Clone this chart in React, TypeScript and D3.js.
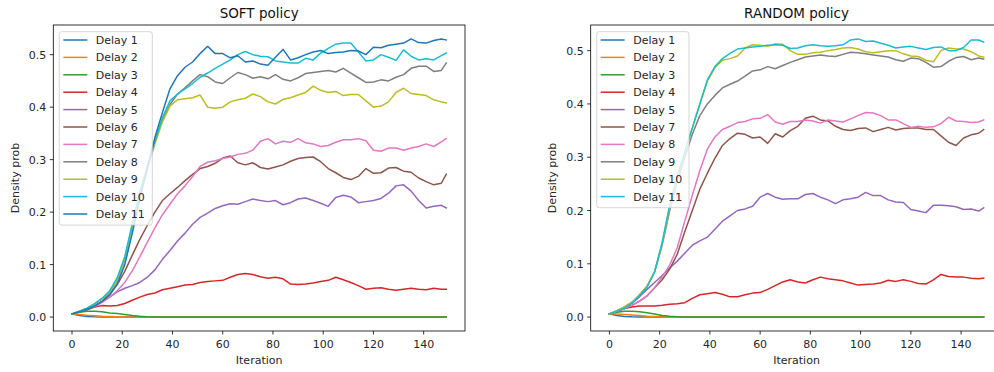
import React from "react";
import * as d3 from "d3";

const iterations = [0,3,6,9,12,15,18,21,24,27,30,33,36,39,42,45,48,51,54,57,60,63,66,69,72,75,78,81,84,87,90,93,96,99,102,105,108,111,114,117,120,123,126,129,132,135,138,141,144,147,149];

const xTicks = [0, 20, 40, 60, 80, 100, 120, 140];
const yTicks = [0, 0.1, 0.2, 0.3, 0.4, 0.5];

const palette = ["#1f77b4","#ff7f0e","#2ca02c","#d62728","#9467bd","#8c564b","#e377c2","#7f7f7f","#bcbd22","#17becf"];

// SOFT policy
const soft1 = [0.006,0.003,0.0012,0.0005,0.0002,0,0,0,0,0, 0,0,0,0,0,0,0,0,0,0, 0,0,0,0,0,0,0,0,0,0, 0,0,0,0,0,0,0,0,0,0, 0,0,0,0,0,0,0,0,0,0, 0];
const soft2 = [0.006,0.005,0.0035,0.0025,0.0015,0.001,0.0005,0.0002,0.0001,0, 0,0,0,0,0,0,0,0,0,0, 0,0,0,0,0,0,0,0,0,0, 0,0,0,0,0,0,0,0,0,0, 0,0,0,0,0,0,0,0,0,0, 0];
const soft3 = [0.006,0.009,0.011,0.011,0.01,0.008,0.007,0.005,0.003,0.0015, 0.0007,0.0003,0.0001,0,0,0,0,0,0,0, 0,0,0,0,0,0,0,0,0,0, 0,0,0,0,0,0,0,0,0,0, 0,0,0,0,0,0,0,0,0,0, 0];
const soft4 = [0.006,0.01,0.014,0.019,0.022,0.021,0.022,0.026,0.032,0.038, 0.043,0.046,0.052,0.055,0.058,0.061,0.062,0.066,0.068,0.069, 0.07,0.076,0.081,0.083,0.081,0.077,0.074,0.076,0.073,0.063, 0.062,0.063,0.065,0.068,0.07,0.076,0.071,0.066,0.06,0.053, 0.055,0.056,0.053,0.051,0.053,0.055,0.053,0.052,0.055,0.053, 0.053];
const soft5 = [0.006,0.01,0.015,0.021,0.03,0.038,0.048,0.055,0.06,0.066, 0.076,0.09,0.11,0.127,0.145,0.16,0.177,0.19,0.198,0.207, 0.212,0.216,0.215,0.22,0.225,0.222,0.22,0.222,0.214,0.218, 0.225,0.227,0.222,0.217,0.211,0.228,0.232,0.229,0.218,0.22, 0.222,0.226,0.236,0.25,0.252,0.24,0.222,0.208,0.211,0.213, 0.208];
const soft6 = [0.006,0.01,0.015,0.021,0.03,0.044,0.062,0.087,0.118,0.148, 0.175,0.2,0.222,0.235,0.247,0.26,0.272,0.283,0.287,0.293, 0.303,0.307,0.294,0.29,0.294,0.285,0.282,0.286,0.29,0.297, 0.302,0.304,0.305,0.296,0.283,0.275,0.266,0.262,0.268,0.283, 0.274,0.275,0.284,0.285,0.278,0.276,0.265,0.258,0.252,0.255, 0.272];
const soft7 = [0.006,0.01,0.015,0.02,0.028,0.038,0.05,0.066,0.088,0.115, 0.143,0.17,0.195,0.215,0.235,0.25,0.268,0.287,0.295,0.298, 0.302,0.305,0.31,0.312,0.318,0.335,0.34,0.33,0.335,0.333, 0.34,0.332,0.33,0.325,0.327,0.333,0.338,0.338,0.34,0.336, 0.318,0.316,0.322,0.322,0.318,0.322,0.325,0.33,0.325,0.334, 0.34];
const soft8 = [0.006,0.011,0.017,0.025,0.035,0.047,0.07,0.11,0.175,0.235, 0.285,0.335,0.375,0.405,0.425,0.437,0.45,0.462,0.458,0.448, 0.445,0.456,0.466,0.462,0.455,0.458,0.454,0.462,0.453,0.45, 0.456,0.464,0.466,0.468,0.47,0.467,0.474,0.465,0.456,0.447, 0.448,0.452,0.45,0.457,0.462,0.474,0.478,0.478,0.468,0.47, 0.484];
const soft9 = [0.006,0.011,0.017,0.025,0.035,0.047,0.07,0.11,0.172,0.232, 0.28,0.33,0.372,0.402,0.414,0.416,0.418,0.423,0.4,0.398, 0.4,0.41,0.414,0.417,0.425,0.42,0.41,0.406,0.415,0.418, 0.423,0.428,0.44,0.432,0.428,0.43,0.422,0.424,0.424,0.412, 0.4,0.402,0.41,0.428,0.436,0.426,0.424,0.422,0.414,0.41, 0.408];
const soft10 = [0.006,0.011,0.017,0.025,0.036,0.05,0.075,0.115,0.178,0.24, 0.285,0.335,0.38,0.412,0.425,0.435,0.445,0.457,0.465,0.474, 0.482,0.49,0.5,0.506,0.5,0.497,0.496,0.488,0.486,0.484, 0.484,0.493,0.49,0.503,0.512,0.52,0.522,0.522,0.505,0.488, 0.49,0.5,0.495,0.489,0.509,0.497,0.49,0.492,0.49,0.498, 0.503];
const soft11 = [0.006,0.01,0.015,0.021,0.03,0.042,0.063,0.1,0.16,0.225, 0.285,0.342,0.39,0.435,0.46,0.476,0.486,0.502,0.516,0.502, 0.502,0.494,0.498,0.486,0.488,0.482,0.48,0.495,0.51,0.49, 0.494,0.5,0.505,0.508,0.502,0.504,0.505,0.508,0.507,0.5, 0.514,0.513,0.518,0.52,0.522,0.53,0.523,0.522,0.527,0.53, 0.528];

// RANDOM policy
const rnd1 = [0.006,0.003,0.0013,0.0005,0.0002,0,0,0,0,0, 0,0,0,0,0,0,0,0,0,0, 0,0,0,0,0,0,0,0,0,0, 0,0,0,0,0,0,0,0,0,0, 0,0,0,0,0,0,0,0,0,0, 0];
const rnd2 = [0.006,0.006,0.005,0.004,0.003,0.0018,0.001,0.0005,0.0002,0, 0,0,0,0,0,0,0,0,0,0, 0,0,0,0,0,0,0,0,0,0, 0,0,0,0,0,0,0,0,0,0, 0,0,0,0,0,0,0,0,0,0, 0];
const rnd3 = [0.006,0.009,0.011,0.011,0.01,0.008,0.006,0.003,0.0015,0.0007, 0.0003,0,0,0,0,0,0,0,0,0, 0,0,0,0,0,0,0,0,0,0, 0,0,0,0,0,0,0,0,0,0, 0,0,0,0,0,0,0,0,0,0, 0];
const rnd4 = [0.006,0.011,0.016,0.019,0.021,0.021,0.021,0.022,0.024,0.025, 0.027,0.035,0.042,0.044,0.046,0.043,0.038,0.038,0.042,0.045, 0.046,0.052,0.059,0.066,0.07,0.066,0.064,0.07,0.075,0.072, 0.07,0.068,0.064,0.06,0.061,0.062,0.064,0.069,0.067,0.07, 0.067,0.063,0.062,0.07,0.08,0.076,0.075,0.075,0.073,0.072, 0.073];
const rnd5 = [0.006,0.011,0.017,0.026,0.038,0.052,0.065,0.078,0.092,0.105, 0.12,0.135,0.143,0.15,0.165,0.18,0.19,0.2,0.203,0.208, 0.225,0.232,0.225,0.221,0.222,0.222,0.23,0.232,0.225,0.22, 0.213,0.22,0.222,0.225,0.234,0.228,0.228,0.22,0.216,0.215, 0.202,0.199,0.196,0.21,0.21,0.209,0.207,0.202,0.203,0.199, 0.205];
const rnd7 = [0.006,0.011,0.016,0.022,0.03,0.04,0.055,0.07,0.09,0.118, 0.16,0.2,0.24,0.27,0.298,0.322,0.335,0.345,0.343,0.336, 0.338,0.326,0.344,0.338,0.35,0.358,0.373,0.377,0.37,0.368, 0.358,0.352,0.35,0.354,0.355,0.348,0.352,0.356,0.351,0.354, 0.355,0.355,0.352,0.352,0.34,0.328,0.322,0.336,0.342,0.345, 0.352];
const rnd8 = [0.006,0.011,0.016,0.022,0.03,0.04,0.055,0.075,0.098,0.13, 0.18,0.228,0.275,0.315,0.338,0.352,0.358,0.365,0.367,0.372, 0.373,0.38,0.366,0.362,0.367,0.367,0.37,0.368,0.364,0.37, 0.368,0.366,0.372,0.378,0.384,0.383,0.378,0.37,0.37,0.363, 0.356,0.358,0.356,0.357,0.363,0.375,0.368,0.367,0.365,0.366, 0.37];
const rnd9 = [0.006,0.012,0.019,0.028,0.042,0.058,0.085,0.135,0.2,0.255, 0.3,0.343,0.378,0.4,0.416,0.43,0.437,0.443,0.452,0.462, 0.464,0.47,0.466,0.472,0.478,0.483,0.488,0.49,0.492,0.49, 0.489,0.493,0.497,0.496,0.494,0.492,0.49,0.488,0.483,0.48, 0.486,0.485,0.478,0.469,0.47,0.48,0.487,0.489,0.483,0.486, 0.484];
const rnd10 = [0.006,0.012,0.019,0.028,0.042,0.058,0.085,0.138,0.205,0.262, 0.31,0.355,0.4,0.443,0.468,0.482,0.485,0.49,0.505,0.511, 0.51,0.508,0.513,0.512,0.5,0.493,0.493,0.496,0.497,0.5, 0.502,0.505,0.506,0.503,0.498,0.496,0.498,0.5,0.5,0.494, 0.49,0.489,0.482,0.479,0.5,0.505,0.503,0.503,0.498,0.49, 0.488];
const rnd11 = [0.006,0.011,0.017,0.026,0.04,0.056,0.085,0.14,0.21,0.265, 0.31,0.355,0.4,0.445,0.47,0.485,0.495,0.503,0.505,0.507, 0.508,0.51,0.511,0.51,0.504,0.505,0.509,0.511,0.509,0.508, 0.509,0.511,0.52,0.522,0.517,0.518,0.514,0.51,0.505,0.507, 0.508,0.505,0.502,0.506,0.507,0.5,0.5,0.506,0.52,0.52, 0.516];

const softLabels = ["Delay 1","Delay 2","Delay 3","Delay 4","Delay 5","Delay 6","Delay 7","Delay 8","Delay 9","Delay 10","Delay 11"];
const softValues = [soft1,soft2,soft3,soft4,soft5,soft6,soft7,soft8,soft9,soft10,soft11];
const rndLabels = ["Delay 1","Delay 2","Delay 3","Delay 4","Delay 5","Delay 7","Delay 8","Delay 9","Delay 10","Delay 11"];
const rndValues = [rnd1,rnd2,rnd3,rnd4,rnd5,rnd7,rnd8,rnd9,rnd10,rnd11];

const FONT = "'DejaVu Sans', sans-serif";

type PanelProps = {
  title: string;
  labels: string[];
  values: number[][];
  left: number;
};

function Panel({ title, labels, values, left }: PanelProps) {
  const width = 411.7;
  const top = 25;
  const bottom = 331;
  const right = left + width;
  const xMin = d3.min(iterations)!;
  const xMax = d3.max(iterations)!;
  const xPad = (xMax - xMin) * 0.05;
  const yMaxData = d3.max(values.flat())!;
  const yMinData = d3.min(values.flat())!;
  const yPad = (yMaxData - yMinData) * 0.05;
  const x = d3.scaleLinear().domain([xMin - xPad, xMax + xPad]).range([left, right]);
  const y = d3.scaleLinear().domain([yMinData - yPad, yMaxData + yPad]).range([bottom, top]);
  const line = d3.line<number>().x((_, i) => x(iterations[i])).y((d) => y(d));
  const cx = (left + right) / 2;
  const legX = left + 6;
  const legY = 31.7;
  const rowH = 17.4;
  const legW = labels.length > 10 ? 93 : 92.3;
  return (
    <g>
      <rect x={left} y={top} width={width} height={bottom - top} fill="white" />
      {values.map((vals, k) => (
        <path key={k} d={line(vals) || ""} fill="none" stroke={palette[k % 10]} strokeWidth={1.5} strokeLinejoin="round" strokeLinecap="square" />
      ))}
      <rect x={left} y={top} width={width} height={bottom - top} fill="none" stroke="black" strokeWidth={0.8} />
      {xTicks.map((t) => (
        <g key={"x" + t}>
          <line x1={x(t)} x2={x(t)} y1={bottom} y2={bottom + 3.5} stroke="black" strokeWidth={0.8} />
          <text x={x(t)} y={348.3} textAnchor="middle" fontSize={11} fontFamily={FONT} fill="#262626">{t}</text>
        </g>
      ))}
      {yTicks.map((t) => (
        <g key={"y" + t}>
          <line x1={left} x2={left - 3.5} y1={y(t)} y2={y(t)} stroke="black" strokeWidth={0.8} />
          <text x={left - 7} y={y(t) + 4} textAnchor="end" fontSize={11} fontFamily={FONT} fill="#262626">{t.toFixed(1)}</text>
        </g>
      ))}
      <text x={cx} y={18} textAnchor="middle" fontSize={13.5} fontFamily={FONT} fill="#111">{title}</text>
      <text x={cx} y={364} textAnchor="middle" fontSize={11} fontFamily={FONT} fill="#262626">Iteration</text>
      <text transform={`translate(${left - 34.5},${(top + bottom) / 2}) rotate(-90)`} textAnchor="middle" fontSize={11} fontFamily={FONT} fill="#262626">Density prob</text>
      <rect x={legX} y={legY} width={legW} height={labels.length * rowH + 2} rx={2.5} fill="white" fillOpacity={0.8} stroke="#cccccc" strokeWidth={0.8} />
      {labels.map((lab, k) => {
        const ry = legY + 8.3 + k * rowH;
        return (
          <g key={lab}>
            <line x1={legX + 4} x2={legX + 28} y1={ry} y2={ry} stroke={palette[k % 10]} strokeWidth={1.5} />
            <text x={legX + 36.5} y={ry + 4} fontSize={11} fontFamily={FONT} fill="#262626">{lab}</text>
          </g>
        );
      })}
    </g>
  );
}

export default function App() {
  return (
    <svg width={994} height={372} style={{ position: "absolute", left: 0, top: 0, background: "white" }}>
      <rect x={0} y={0} width={994} height={372} fill="white" />
      <Panel title="SOFT policy" labels={softLabels} values={softValues} left={53.3} />
      <Panel title="RANDOM policy" labels={rndLabels} values={rndValues} left={590.7} />
    </svg>
  );
}
